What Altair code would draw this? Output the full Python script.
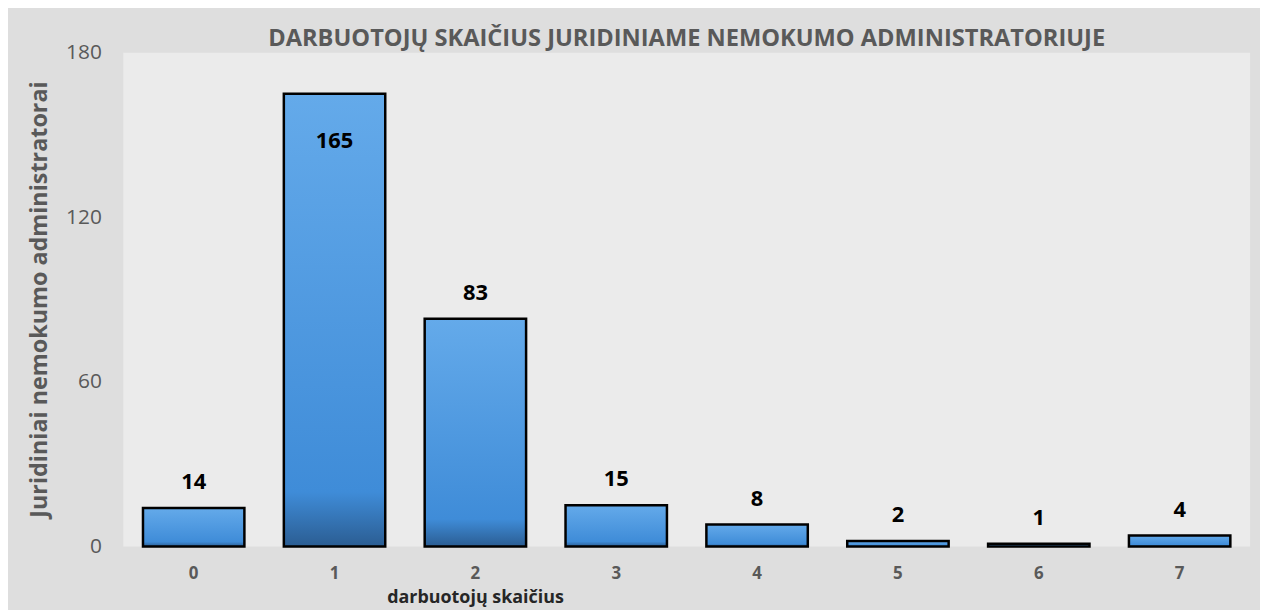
import altair as alt
import pandas as pd

categories = ["0", "1", "2", "3", "4", "5", "6", "7"]
values = [14, 165, 83, 15, 8, 2, 1, 4]
inside = [False, True, False, False, False, False, False, False]

df = pd.DataFrame({"cat": categories, "val": values, "inside": inside})

FONT = "Open Sans"
GREY = "#595959"

x = alt.X("cat:N", sort=categories, scale=alt.Scale(paddingInner=0.28, paddingOuter=0.14),
          axis=alt.Axis(title="darbuotojų skaičius", labelAngle=0, labelFont=FONT,
                        labelFontSize=17, labelFontWeight="bold", labelColor=GREY,
                        labelPadding=19, domain=False, ticks=False,
                        titleFont=FONT, titleFontSize=18, titleFontWeight="bold",
                        titleColor="#262626", titleX=354, titleY=42, titleAnchor="middle"))
y = alt.Y("val:Q", scale=alt.Scale(domain=[0, 180]),
          axis=alt.Axis(title="Juridiniai nemokumo administratorai", values=[0, 60, 120, 180],
                        grid=False, domain=False, ticks=False, labelFont=FONT,
                        labelFontSize=21, labelColor=GREY, labelPadding=22,
                        titleFont=FONT, titleFontSize=23.5, titleFontWeight="bold",
                        titleColor=GREY, titleX=-84, titleY=248, titleAngle=-90,
                        titleAlign="center", titleBaseline="middle"))

grad = alt.Gradient(
    gradient="linear", x1=0, x2=0, y1=0, y2=1,
    stops=[alt.GradientStop(color="#64aaea", offset=0),
           alt.GradientStop(color="#3f8cd8", offset=0.88),
           alt.GradientStop(color="#2b5d92", offset=1)],
)

bars = alt.Chart(df).mark_bar(color=grad, stroke="#000000", strokeWidth=2.5).encode(x=x, y=y)

lab_out = alt.Chart(df).transform_filter("!datum.inside").mark_text(
    font=FONT, fontSize=22, fontWeight="bold", color="#000000", dy=-14, baseline="bottom"
).encode(x=x, y=y, text="val:Q")

lab_in = alt.Chart(df).transform_filter("datum.inside").mark_text(
    font=FONT, fontSize=22, fontWeight="bold", color="#000000", dy=48, baseline="middle"
).encode(x=x, y=y, text="val:Q")

chart = alt.layer(bars, lab_out, lab_in).properties(
    width=1134, height=497,
    title=alt.TitleParams("DARBUOTOJŲ SKAIČIUS JURIDINIAME NEMOKUMO ADMINISTRATORIUJE",
                          font=FONT, fontSize=23.8, fontWeight="bold", color=GREY,
                          anchor="middle", offset=6, dy=15),
    autosize=alt.AutoSizeParams(type="none"),
    padding={"left": 116, "top": 43, "right": 10, "bottom": 62},
    background="#dedede",
).configure_view(fill="#ebebeb", stroke=None)

chart.save("out.html", embed_options={"renderer": "svg", "actions": False})
